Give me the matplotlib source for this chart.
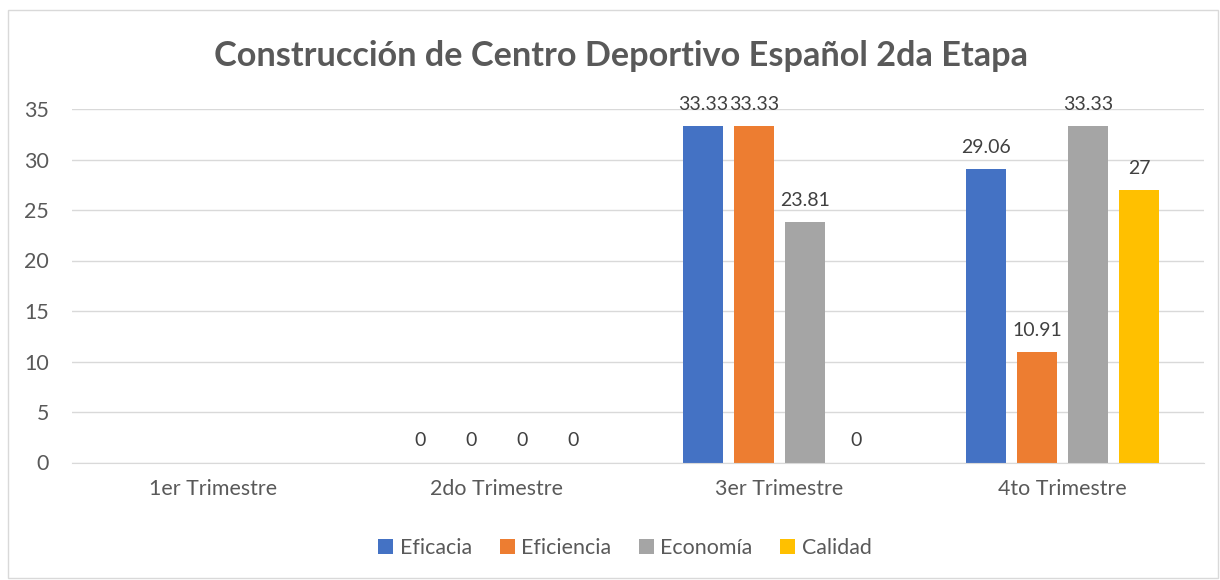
import numpy as np
import matplotlib.pyplot as plt
from matplotlib.patches import Rectangle

plt.rcParams['font.family'] = ['Lato', 'DejaVu Sans']

trimestres = ['1er Trimestre', '2do Trimestre', '3er Trimestre', '4to Trimestre']
series = ['Eficacia', 'Eficiencia', 'Economía', 'Calidad']
eficacia = [np.nan, 0, 33.33, 29.06]
eficiencia = [np.nan, 0, 33.33, 10.91]
economia = [np.nan, 0, 23.81, 33.33]
calidad = [np.nan, 0, 0, 27]
colores = ['#4472C4', '#ED7D31', '#A5A5A5', '#FFC000']

valores = [eficacia, eficiencia, economia, calidad]

fig = plt.figure(figsize=(12.2, 5.8), dpi=100)
ax = fig.add_axes([72/1220, 1 - 462.5/580, (1204-72)/1220, (462.5-109)/580])

x = np.arange(len(trimestres))
ancho = 0.141
paso = 0.18
for i, (nombre, vals, c) in enumerate(zip(series, valores, colores)):
    pos = x + (i - 1.5) * paso
    barras = ax.bar(pos, vals, width=ancho, color=c, label=nombre, zorder=3)
    for p, v in zip(pos, vals):
        if np.isnan(v):
            continue
        ax.annotate('{:g}'.format(v), (p, v), xytext=(0, 9.5), textcoords='offset points',
                    ha='center', va='bottom', fontsize=14, color='#404040')

ax.set_xlim(-0.5, 3.5)
ax.set_ylim(0, 35)
ax.set_yticks(range(0, 36, 5))
ax.set_xticks(x)
ax.set_xticklabels(trimestres)
ax.tick_params(axis='both', length=0, labelsize=15.4, colors='#595959')
ax.tick_params(axis='x', pad=12)
ax.tick_params(axis='y', pad=16.5)
ax.grid(axis='y', color='#d9d9d9', linewidth=1, zorder=0)
for s in ['top', 'right', 'left']:
    ax.spines[s].set_visible(False)
ax.spines['bottom'].set_color('#d9d9d9')
ax.spines['bottom'].set_zorder(4)

fig.text(621/1220, 1 - 56/580, 'Construcción de Centro Deportivo Español 2da Etapa',
         ha='center', va='center', fontsize=24.7, fontweight='bold', color='#595959')

fig.legend(loc='center', bbox_to_anchor=(625/1220, 1 - 548/580), ncol=4, frameon=False,
           fontsize=15.4, labelcolor='#595959', handlelength=0.7, handleheight=0.7,
           handletextpad=0.3, columnspacing=1.3)

fig.patches.append(Rectangle((8/1220, 2/580), 1210/1220, 568/580, transform=fig.transFigure,
                             fill=False, edgecolor='#d9d9d9', linewidth=1))

fig.savefig('out.png', dpi=100)
